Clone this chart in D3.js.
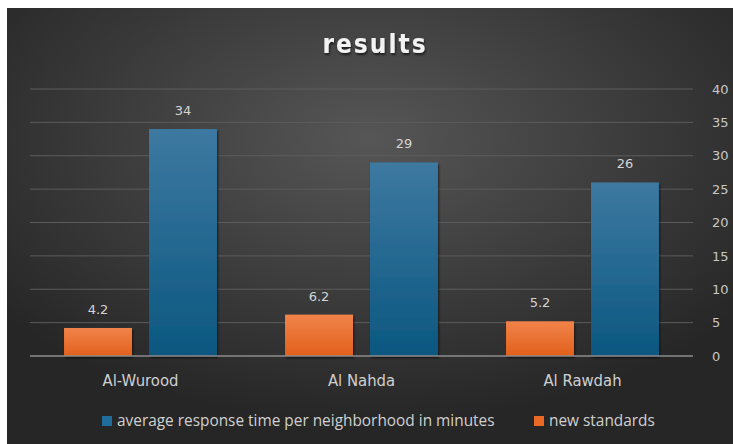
<!DOCTYPE html>
<html>
<head>
<meta charset="utf-8">
<script src="https://cdn.jsdelivr.net/npm/d3@7"></script>
<style>
  body { margin: 0; background: white; }
</style>
</head>
<body>
<div id="vis"></div>
<script>
// data
const categories = ["Al-Wurood", "Al Nahda", "Al Rawdah"];
const seriesNames = ["new standards", "average response time per neighborhood in minutes"];
const newStandards = [4.2, 6.2, 5.2];
const avgResponse = [34, 29, 26];
const yTicks = [0, 5, 10, 15, 20, 25, 30, 35, 40];

let width = 733;
let height = 444;

let margin = { top: 89, bottom: 88, left: 30, right: 40 };

let svg = d3.select("#vis")
  .append("svg")
  .attr("width", width)
  .attr("height", height);

let defs = svg.append("defs");

// background gradient
let bg = defs.append("radialGradient")
  .attr("id", "bg")
  .attr("cx", "50%").attr("cy", "30%").attr("r", "65%");
bg.append("stop").attr("offset", "0%").attr("stop-color", "#565656");
bg.append("stop").attr("offset", "100%").attr("stop-color", "#262626");

let blueGrad = defs.append("linearGradient")
  .attr("id", "blueGrad").attr("x1", 0).attr("y1", 0).attr("x2", 0).attr("y2", 1);
blueGrad.append("stop").attr("offset", "0%").attr("stop-color", "#3d79a1");
blueGrad.append("stop").attr("offset", "100%").attr("stop-color", "#0b5780");

let orangeGrad = defs.append("linearGradient")
  .attr("id", "orangeGrad").attr("x1", 0).attr("y1", 0).attr("x2", 0).attr("y2", 1);
orangeGrad.append("stop").attr("offset", "0%").attr("stop-color", "#f0834a");
orangeGrad.append("stop").attr("offset", "100%").attr("stop-color", "#e2601c");

let shadow = defs.append("filter").attr("id", "shadow")
  .attr("x", "-20%").attr("y", "-20%").attr("width", "140%").attr("height", "140%");
shadow.append("feDropShadow").attr("dx", 1).attr("dy", 2).attr("stdDeviation", 1.2)
  .attr("flood-color", "#000").attr("flood-opacity", 0.6);

svg.append("rect")
  .attr("x", 7).attr("y", 8)
  .attr("width", width - 7).attr("height", height - 8)
  .attr("fill", "url(#bg)");

// scales
let yScale = d3.scaleLinear()
  .domain([0, 40])
  .range([height - margin.bottom, margin.top]);

let xScale = d3.scaleBand()
  .domain(categories)
  .range([margin.left, width - margin.right])
  .paddingInner(0)
  .paddingOuter(0);

let inner = d3.scaleBand()
  .domain([0, 1])
  .range([xScale.bandwidth() * 0.154, xScale.bandwidth() * 0.846])
  .paddingInner(0.2);

// gridlines
svg.append("g")
  .selectAll("line")
  .data(yTicks.filter(d => d > 0))
  .enter()
  .append("line")
  .attr("x1", margin.left)
  .attr("x2", width - margin.right)
  .attr("y1", d => yScale(d))
  .attr("y2", d => yScale(d))
  .attr("stroke", "#5c5c5c")
  .attr("stroke-width", 1);

// right axis
let yAxis = svg.append("g")
  .attr("transform", `translate(${width - margin.right + 13}, 0)`)
  .call(d3.axisRight(yScale).tickValues(yTicks).tickSize(0).tickPadding(6));
yAxis.select(".domain").remove();
yAxis.selectAll("text")
  .attr("fill", "#c8c8c8")
  .style("font-family", "DejaVu Sans, sans-serif")
  .style("font-size", "13px");

// bars
let groups = svg.selectAll(".grp")
  .data(categories)
  .enter()
  .append("g")
  .attr("transform", d => `translate(${xScale(d)}, 0)`);

groups.append("rect")
  .attr("x", inner(0))
  .attr("y", (d, i) => yScale(newStandards[i]))
  .attr("width", inner.bandwidth())
  .attr("height", (d, i) => yScale(0) - yScale(newStandards[i]))
  .attr("fill", "url(#orangeGrad)")
  .attr("filter", "url(#shadow)");

groups.append("rect")
  .attr("x", inner(1))
  .attr("y", (d, i) => yScale(avgResponse[i]))
  .attr("width", inner.bandwidth())
  .attr("height", (d, i) => yScale(0) - yScale(avgResponse[i]))
  .attr("fill", "url(#blueGrad)")
  .attr("filter", "url(#shadow)");

// value labels
groups.append("text")
  .attr("x", inner(0) + inner.bandwidth() / 2)
  .attr("y", (d, i) => yScale(newStandards[i]) - 14)
  .attr("text-anchor", "middle")
  .attr("fill", "#d4d4d4")
  .style("font-family", "DejaVu Sans, sans-serif")
  .style("font-size", "13px")
  .text((d, i) => newStandards[i]);

groups.append("text")
  .attr("x", inner(1) + inner.bandwidth() / 2)
  .attr("y", (d, i) => yScale(avgResponse[i]) - 14)
  .attr("text-anchor", "middle")
  .attr("fill", "#d4d4d4")
  .style("font-family", "DejaVu Sans, sans-serif")
  .style("font-size", "13px")
  .text((d, i) => avgResponse[i]);

// baseline
svg.append("line")
  .attr("x1", margin.left)
  .attr("x2", width - margin.right)
  .attr("y1", yScale(0))
  .attr("y2", yScale(0))
  .attr("stroke", "#8c8c8c")
  .attr("stroke-width", 1.5);

// category labels
groups.append("text")
  .attr("x", xScale.bandwidth() / 2)
  .attr("y", yScale(0) + 30)
  .attr("text-anchor", "middle")
  .attr("fill", "#d0d0d0")
  .style("font-family", "DejaVu Sans Condensed, sans-serif")
  .style("font-size", "16.5px")
  .text(d => d);

// title
svg.append("text")
  .attr("x", 375)
  .attr("y", 53)
  .attr("text-anchor", "middle")
  .attr("fill", "#f2f2f2")
  .attr("filter", "url(#shadow)")
  .style("font-family", "DejaVu Sans Condensed, sans-serif")
  .style("font-weight", "bold")
  .style("font-size", "26px")
  .style("letter-spacing", "2px")
  .text("results");

// legend
let legendItems = [
  { name: seriesNames[1], fill: "#1f6d9a", x: 102 },
  { name: seriesNames[0], fill: "#ea6a25", x: 534 }
];
let legend = svg.selectAll(".leg")
  .data(legendItems)
  .enter()
  .append("g")
  .attr("transform", d => `translate(${d.x}, 416)`);
legend.append("rect")
  .attr("width", 10).attr("height", 10)
  .attr("fill", d => d.fill);
legend.append("text")
  .attr("x", 15)
  .attr("y", 10)
  .attr("fill", "#d0d0d0")
  .style("font-family", "Open Sans, sans-serif")
  .style("font-size", "15.4px")
  .text(d => d.name);
</script>
</body>
</html>
